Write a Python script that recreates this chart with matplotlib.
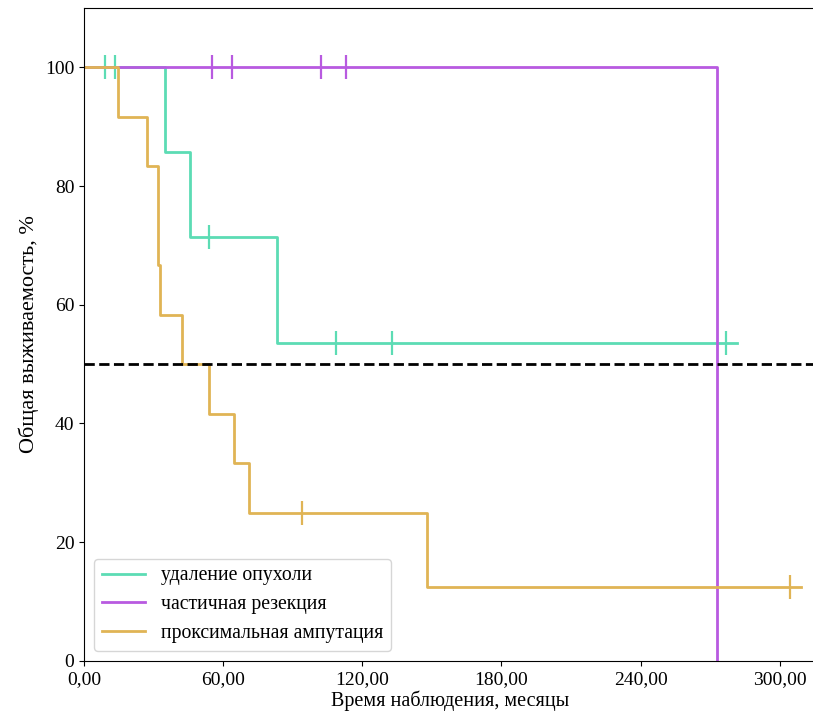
import numpy as np
import matplotlib.pyplot as plt
from matplotlib.ticker import FuncFormatter

plt.rcParams['font.family'] = ['Liberation Serif', 'DejaVu Serif']

# удаление опухоли
t_green = [0, 35.0, 45.5, 83.4, 281.4]
s_green = [100, 85.71, 71.43, 53.57, 53.57]
cens_green_t = [9.1, 13.2, 53.7, 108.8, 132.6, 276.7]
cens_green_s = [100, 100, 71.43, 53.57, 53.57, 53.57]

# частичная резекция
t_purple = [0, 273.0, 273.0]
s_purple = [100, 0, 0]
cens_purple_t = [55.4, 63.7, 102.1, 112.9]
cens_purple_s = [100, 100, 100, 100]

# проксимальная ампутация
t_orange = [0, 14.5, 27.3, 32.1, 32.8, 42.3, 53.9, 64.7, 71.2, 148.0, 309.0]
s_orange = [100, 91.67, 83.33, 66.67, 58.33, 50.0, 41.67, 33.33, 25.0, 12.5, 12.5]
cens_orange_t = [94.1, 304.3]
cens_orange_s = [25.0, 12.5]

labels = ['удаление опухоли', 'частичная резекция', 'проксимальная ампутация']
colors = ['#5cdcb4', '#b85ae0', '#e0b455']

fig = plt.figure(figsize=(8.13, 7.2), dpi=100)
ax = fig.add_axes([0.1033, 0.082, 0.9, 0.907])

series = [(t_green, s_green, cens_green_t, cens_green_s),
          (t_purple, s_purple, cens_purple_t, cens_purple_s),
          (t_orange, s_orange, cens_orange_t, cens_orange_s)]

for (t, s, ct, cs), lab, c in zip(series, labels, colors):
    ax.step(t, s, where='post', color=c, lw=2, label=lab)
    ax.plot(ct, cs, ls='none', marker='|', markersize=17, mew=1.6, color=c)

ax.axhline(50, color='black', ls='--', lw=2)

ax.set_xlim(0, 315.5)
ax.set_ylim(0, 110)
ax.set_xticks([0, 60, 120, 180, 240, 300])
ax.set_yticks([0, 20, 40, 60, 80, 100])
ax.xaxis.set_major_formatter(FuncFormatter(lambda v, p: f'{v:.2f}'.replace('.', ',')))
ax.tick_params(labelsize=14)
ax.set_xlabel('Время наблюдения, месяцы', fontsize=14.5, labelpad=2)
ax.set_ylabel('Общая выживаемость, %', fontsize=16, labelpad=4)
ax.legend(loc='lower left', fontsize=14.2, handlelength=2.2)

fig.savefig('out.png', dpi=100)
